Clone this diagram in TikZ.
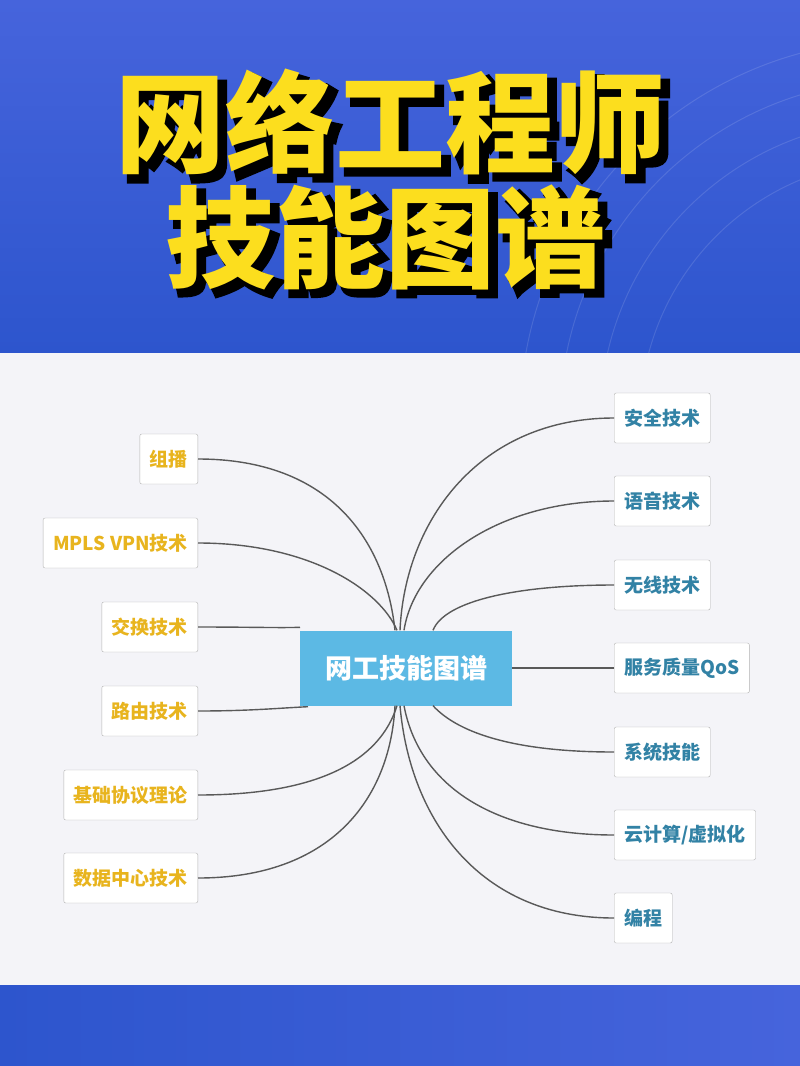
\documentclass[tikz,border=0pt]{standalone}
\usepackage{fontspec}
\newfontfamily\cjk{Noto Sans CJK SC}
\newfontfamily\cjkfat{Noto Sans CJK SC}[FakeBold=5]
\definecolor{bgA}{RGB}{70,100,220}
\definecolor{bgB}{RGB}{45,85,205}
\definecolor{bgW}{RGB}{244,244,248}
\definecolor{ttlY}{RGB}{252,222,30}
\definecolor{cBlue}{RGB}{92,185,228}
\definecolor{lTxt}{RGB}{232,180,30}
\definecolor{rTxt}{RGB}{50,130,165}
\begin{document}
\begin{tikzpicture}[x=1pt,y=-1pt,
  leaf/.style={draw=gray!60,fill=white,rounded corners=2pt,minimum height=50pt,inner xsep=10pt,font=\cjk\bfseries\fontsize{19}{19}\selectfont},
  lnode/.style={leaf,text=lTxt,anchor=east},
  rnode/.style={leaf,text=rTxt,anchor=west},
  conn/.style={draw=black!65,line width=1.4pt},
  ttl/.style={font=\cjk\bfseries\fontsize{110}{110}\selectfont},
  ttlsh/.style={font=\cjkfat\bfseries\fontsize{110}{110}\selectfont,text=black}]
\useasboundingbox (0,0) rectangle (800,1066);
\shade[top color=bgA,bottom color=bgB] (0,0) rectangle (800,353);
\foreach \r in {260,300,340,380}{\draw[white,opacity=0.12,line width=1pt] (900,420) circle (\r);}
\fill[bgW] (0,353) rectangle (800,985);
\shade[left color=bgB,right color=bgA] (0,985) rectangle (800,1066);
% titles
\node[ttlsh] (s1) at (397,128) {网络工程师};
\node[ttlsh] (s2) at (392,243) {技能图谱};
\node[ttl,text=ttlY] (t1) at (390,122) {网络工程师};
\node[ttl,text=ttlY] (t2) at (385,237) {技能图谱};
% center
\node[fill=cBlue,text=white,minimum width=212pt,minimum height=75pt,font=\cjk\bfseries\fontsize{27}{27}\selectfont] (c) at (406,668) {网工技能图谱};
% left
\node[lnode] (l1) at (198,459) {组播};
\node[lnode] (l2) at (198,543) {MPLS VPN技术};
\node[lnode] (l3) at (198,627) {交换技术};
\node[lnode] (l4) at (198,711) {路由技术};
\node[lnode] (l5) at (198,795) {基础协议理论};
\node[lnode] (l6) at (198,878) {数据中心技术};
% right
\node[rnode] (r1) at (614,418) {安全技术};
\node[rnode] (r2) at (614,501) {语音技术};
\node[rnode] (r3) at (614,585) {无线技术};
\node[rnode] (r4) at (614,668) {服务质量QoS};
\node[rnode] (r5) at (614,752) {系统技能};
\node[rnode] (r6) at (614,835) {云计算/虚拟化};
\node[rnode] (r7) at (614,918) {编程};
\coordinate (ct) at (c.north); \coordinate (cb) at (c.south);
\draw[conn] (l1.east) .. controls (330,459) and (385,540) .. ([xshift=-11pt]ct);
\draw[conn] (l2.east) .. controls (310,543) and (380,590) .. ([xshift=-9pt]ct);
\draw[conn] (l3.east) .. controls (250,627) and (280,628) .. ([xshift=-106pt,yshift=3pt]ct);
\draw[conn] (l4.east) .. controls (250,711) and (280,708) .. ([xshift=-98pt,yshift=-1pt]cb);
\draw[conn] (l5.east) .. controls (320,795) and (380,760) .. ([xshift=-9pt]cb);
\draw[conn] (l6.east) .. controls (330,878) and (390,800) .. ([xshift=-11pt]cb);
\draw[conn] (r1.west) .. controls (480,418) and (405,520) .. ([xshift=-6pt]ct);
\draw[conn] (r2.west) .. controls (500,501) and (415,560) .. ([xshift=-2pt]ct);
\draw[conn] (r3.west) .. controls (520,585) and (445,600) .. ([xshift=27pt]ct);
\draw[conn] (r4.west) -- (c.east);
\draw[conn] (r5.west) .. controls (520,752) and (460,735) .. ([xshift=27pt]cb);
\draw[conn] (r6.west) .. controls (500,835) and (420,790) .. ([xshift=-2pt]cb);
\draw[conn] (r7.west) .. controls (480,918) and (410,820) .. ([xshift=-6pt]cb);
\end{tikzpicture}
\end{document}
